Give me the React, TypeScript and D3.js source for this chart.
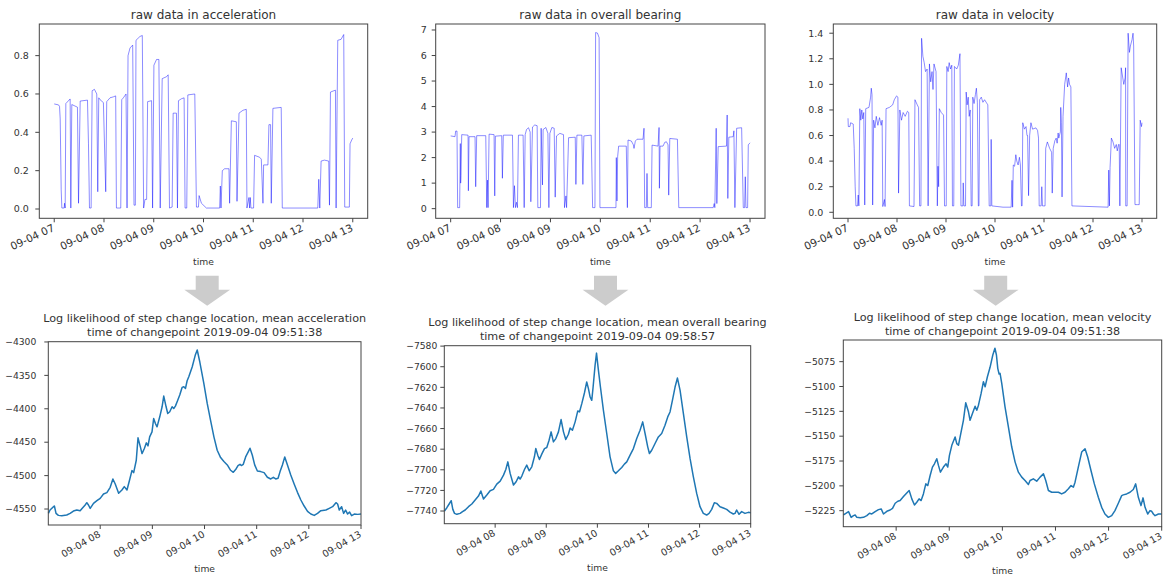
import React from "react";
import * as d3 from "d3";

// Time axis: all series are stored as minutes after 2019-09-04 07:00.
const BASE = new Date(2019, 8, 4, 7, 0, 0);
const at = (m: number) => new Date(BASE.getTime() + m * 60000);

type Pt = [number, number];

// ---- raw sensor series [minute, value] ----
const accelRaw: Pt[] = [
  [0, 0.548], [5.2, 0.543], [6.4, 0.535], [7.2, 0.47], [8.4, 0.1], [9.2, 0.005], [12, 0.005], [12.4, 0.03], [13.2, 0.005],
  [14, 0.55], [19.2, 0.574], [20, 0.005], [21.2, 0.545], [28, 0.531], [29.3, 0.03], [31.3, 0.563], [40.1, 0.568],
  [41.3, 0.34], [42.5, 0.005], [44.5, 0.005], [45.7, 0.617], [48.5, 0.624], [51.3, 0.6], [52.5, 0.09], [53.7, 0.58],
  [55.3, 0.57], [59.3, 0.555], [62.1, 0.09], [63.3, 0.56], [67.3, 0.58], [71.3, 0.585], [74.1, 0.59], [75, 0.005],
  [80.2, 0.005], [81.4, 0.57], [83.4, 0.58], [86.6, 0.6], [87.8, 0.005], [89, 0.8], [91.4, 0.84], [94.6, 0.855],
  [96.2, 0.02], [97.8, 0.02], [98.6, 0.88], [103.4, 0.9], [106.2, 0.905], [107.8, 0.005], [109.4, 0.05], [111.4, 0.05],
  [112.6, 0.56], [117.4, 0.565], [118.6, 0.005], [120.2, 0.75], [123.4, 0.78], [126.2, 0.78], [127.8, 0.005],
  [130.2, 0.68], [135.4, 0.69], [137.4, 0.7], [139, 0.005], [142.2, 0.01], [143.4, 0.5], [147.4, 0.5], [148.6, 0.005],
  [149.8, 0.565], [153.4, 0.575], [156.6, 0.58], [157.8, 0.005], [159.8, 0.005], [161.1, 0.595], [169.5, 0.6],
  [171.5, 0.01], [173.9, 0.01], [174.7, 0.07], [177.5, 0.03], [183.5, 0.005], [199.5, 0.005], [200.3, 0.12],
  [201.1, 0.005], [202.7, 0.2], [205.5, 0.21], [210.7, 0.21], [211.5, 0.03], [213.6, 0.46], [219.6, 0.455],
  [220.4, 0.04], [222.8, 0.5], [227.6, 0.515], [231.6, 0.52], [232.4, 0.005], [234.8, 0.06], [235.6, 0.005],
  [236.4, 0.06], [237.2, 0.005], [240.4, 0.005], [241.6, 0.28], [247.6, 0.27], [249.7, 0.26], [251.7, 0.03],
  [252.5, 0.23], [257.7, 0.23], [258.9, 0.44], [260.9, 0.44], [261.7, 0.03], [263.7, 0.525], [273.7, 0.53],
  [275, 0.005], [317.8, 0.005], [319, 0.155], [320.2, 0.005], [321.8, 0.25], [325.8, 0.255], [331, 0.25],
  [331.9, 0.02], [333.1, 0.61], [339.1, 0.62], [339.9, 0.005], [341.9, 0.88], [345.9, 0.885], [349.1, 0.91],
  [350.3, 0.01], [355.9, 0.01], [356.7, 0.34], [358.7, 0.36], [360, 0.37],
];

const bearingRaw: Pt[] = [
  [0, 2.85], [5.2, 2.82], [6, 3.04], [7.6, 3.04], [8.4, 0.04], [10.8, 0.04], [11.6, 2.55], [12, 1.0], [12.4, 1.3],
  [13.3, 2.9], [20.9, 2.88], [21.3, 0.7], [22.1, 2.82], [29.3, 2.82], [30.1, 0.86], [31.3, 2.86], [42.2, 2.86],
  [43.4, 0.04], [44.2, 1.12], [45, 0.04], [46.2, 2.92], [52.2, 2.9], [53, 0.5], [53.8, 2.84], [61.4, 2.86],
  [62.2, 1.19], [63.3, 2.88], [74.3, 2.88], [75.5, 0.04], [76.7, 0.9], [77.9, 0.04], [79.1, 0.25], [80.3, 0.04],
  [81.5, 2.88], [87.1, 2.88], [88.4, 0.04], [89.6, 2.9], [91.2, 3.1], [93.6, 3.17], [95.6, 3.0], [96.4, 0.27],
  [98.4, 3.2], [101.2, 3.28], [104, 3.25], [104.8, 0.04], [108, 0.04], [108.8, 3.15], [110.4, 0.93], [111.2, 3.1],
  [114.5, 3.18], [116.9, 2.95], [118.1, 0.04], [119.3, 2.95], [121.7, 3.18], [124.5, 3.15], [125.7, 0.45],
  [127.3, 2.85], [131.3, 2.95], [135.7, 2.9], [136.9, 0.04], [138.6, 0.5], [139.4, 0.04], [141.8, 2.78],
  [149.8, 2.8], [150.6, 0.95], [151.8, 2.88], [157.8, 2.88], [159, 0.95], [160.2, 2.85], [169, 2.88], [170.7, 0.04],
  [173.5, 0.04], [174.3, 6.9], [176.5, 6.88], [178.5, 6.7], [179.5, 0.04], [198.8, 0.04], [199.2, 2.0], [200, 0.3],
  [200.8, 2.04], [202, 2.45], [211.2, 2.45], [212.5, 0.04], [213.3, 2.69], [217.3, 2.65], [219.7, 2.5],
  [220.5, 2.36], [222.1, 2.65], [224.1, 2.72], [231.3, 2.72], [232.5, 3.15], [233.3, 0.04], [235.3, 0.04],
  [236.1, 1.38], [236.9, 0.04], [241.3, 0.04], [242.2, 2.49], [249.4, 2.45], [250.6, 3.18], [251, 0.8],
  [251.8, 2.45], [255.4, 2.45], [257.5, 2.6], [259.5, 2.62], [261.4, 2.5], [262.2, 0.53], [263.5, 2.75],
  [272.7, 2.72], [274.3, 0.04], [315.7, 0.04], [316.9, 0.2], [317.7, 0.04], [319.3, 3.15], [320.1, 0.2],
  [321.7, 2.43], [331.7, 2.45], [332.5, 3.67], [333.3, 0.4], [334.5, 2.8], [339.8, 2.82], [340.6, 3.05],
  [341.8, 0.04], [343.9, 3.15], [349.9, 3.17], [351.9, 0.04], [353.5, 0.04], [354.3, 1.25], [355.1, 0.04],
  [357.1, 0.04], [357.9, 2.5], [360, 2.58],
];

const velocityRaw: Pt[] = [
  [0, 0.735], [0.4, 0.67], [2.4, 0.67], [3.2, 0.7], [6.4, 0.69], [7.6, 0.5], [8.8, 0.2], [9.7, 0.05], [11.7, 0.05],
  [12.5, 0.135], [13.3, 0.05], [14.5, 0.81], [15.7, 0.72], [16.9, 0.8], [18.1, 0.73], [19.3, 0.78], [20.5, 0.057],
  [21.7, 0.81], [25.7, 0.82], [27.7, 0.9], [28.5, 0.97], [29.4, 0.92], [30.2, 0.057], [31.4, 0.72], [33, 0.66],
  [34.6, 0.75], [36.6, 0.68], [38.6, 0.74], [40.6, 0.68], [41.8, 0.72], [42.6, 0.045], [44.6, 0.1], [45.4, 0.045],
  [46.6, 0.81], [50.7, 0.82], [54.7, 0.84], [56.7, 0.88], [59.5, 0.91], [61.1, 0.9], [61.9, 0.15], [63.5, 0.8],
  [65.5, 0.72], [67.5, 0.78], [70, 0.75], [72.8, 0.79], [74.4, 0.78], [75.2, 0.05], [80.8, 0.045], [82, 0.88],
  [84.8, 0.84], [86.4, 0.82], [87.7, 0.05], [89.3, 0.05], [90.1, 1.36], [91.7, 1.22], [93.3, 1.17], [94.9, 1.1],
  [96.9, 1.12], [98.1, 0.05], [99.7, 1.16], [101.3, 1.02], [102.9, 1.1], [104.1, 0.96], [105.3, 1.16],
  [107.8, 1.1], [109.4, 0.05], [110.2, 0.36], [111, 0.2], [111.8, 0.81], [114.2, 0.78], [117, 0.76], [118.2, 0.05],
  [120.3, 0.05], [121, 1.14], [122.6, 1.1], [123.9, 1.17], [125.5, 1.12], [127.1, 1.15], [127.9, 0.05],
  [129.5, 0.05], [130.3, 1.14], [133.1, 1.12], [135.1, 1.15], [137.1, 1.24], [138.3, 0.05], [140.7, 0.05],
  [141.1, 0.23], [141.9, 0.05], [143.9, 0.05], [144.7, 0.94], [145.9, 0.84], [147.2, 0.9], [148.4, 0.75],
  [149.6, 0.8], [150.8, 0.05], [152, 0.05], [152.8, 0.9], [154.4, 0.85], [156, 0.92], [157.2, 0.97], [158.4, 0.86],
  [159.6, 0.05], [160.4, 0.05], [161.2, 0.88], [163.2, 0.9], [165.2, 0.86], [167.2, 0.88], [169.2, 0.86],
  [171.2, 0.84], [172.9, 0.05], [174.9, 0.05], [175.3, 0.57], [176.1, 0.05], [189.8, 0.04], [199.8, 0.04],
  [200.8, 0.25], [201.6, 0.04], [202.4, 0.37], [204, 0.36], [205.5, 0.45], [206.7, 0.4], [208.3, 0.37],
  [209.9, 0.43], [211.1, 0.37], [212.4, 0.05], [213.2, 0.05], [214, 0.7], [216, 0.65], [218, 0.67], [219.2, 0.6],
  [219.9, 0.6], [221.1, 0.13], [222.4, 0.6], [224, 0.7], [226, 0.65], [230.1, 0.66], [232.1, 0.64], [233.3, 0.58],
  [234.1, 0.05], [236.5, 0.05], [237.3, 0.2], [238.1, 0.05], [241.3, 0.05], [242.1, 0.5], [244.1, 0.55],
  [246.9, 0.5], [249.3, 0.47], [250.1, 0.15], [251.3, 0.5], [253.3, 0.56], [254.9, 0.58], [256.1, 0.54],
  [257.3, 0.62], [258.1, 0.58], [260.1, 0.63], [260.5, 0.82], [261.3, 0.7], [262.1, 0.12], [263.3, 0.75],
  [265.3, 1.0], [267.3, 1.09], [268.9, 0.98], [270.1, 1.05], [271.3, 1.0], [272.9, 0.98], [274.2, 0.05],
  [318.5, 0.04], [319.3, 0.33], [320.1, 0.05], [320.9, 0.35], [322.5, 0.58], [324.5, 0.55], [326.5, 0.5],
  [328.5, 0.53], [329.7, 0.48], [331.3, 0.53], [332.1, 0.53], [332.9, 0.05], [334.5, 1.13], [336.5, 1.05],
  [337.7, 1.0], [339.3, 1.05], [339.9, 1.13], [340.1, 0.05], [341.8, 0.05], [343, 1.4], [344.6, 1.25],
  [345.8, 1.3], [347.8, 1.35], [349, 1.4], [349.8, 1.3], [351.4, 0.06], [354.6, 0.06], [356.6, 0.06],
  [357.8, 0.72], [359.4, 0.67], [360, 0.7],
];

// ---- log likelihood of the step-change location [minute, log L] ----
const llAccel: Pt[] = [
  [0.4, -4556.5], [2.3, -4551.5], [6.2, -4546.5], [7.3, -4545.5], [9.2, -4556.5], [11.9, -4559.5], [15.8, -4560],
  [21.5, -4559], [25.4, -4556.5], [29.2, -4553], [33.1, -4551.5], [36.9, -4552.5], [42.7, -4544], [44.6, -4540.5],
  [46.5, -4544], [48.5, -4549], [52.3, -4541.5], [56.2, -4537.5], [60, -4534], [63.8, -4527.5], [67.7, -4525.5],
  [71.5, -4517.5], [74.6, -4505], [77.3, -4512.5], [81.2, -4526.5], [85, -4521.5], [87.7, -4516.5],
  [90.8, -4521.5], [93.8, -4506.5], [96.5, -4492.5], [98.5, -4495.5], [101.5, -4477], [103.5, -4443.5],
  [106.2, -4457], [108.1, -4467], [110.8, -4459.5], [113.1, -4451], [115, -4455.5], [116.9, -4442],
  [119.6, -4434.5], [121.5, -4414.5], [123.5, -4422], [125.4, -4427], [128.5, -4412], [131.2, -4397],
  [133.1, -4381], [135.8, -4397], [137.7, -4407], [140, -4404.5], [142.7, -4397], [144.6, -4399.5],
  [146.5, -4396], [148.5, -4389.5], [151.5, -4379.5], [154.2, -4368], [156.2, -4367], [158.1, -4369.5],
  [160, -4358], [161.9, -4352], [165.8, -4337.5], [169.3, -4320], [171.6, -4312], [174.6, -4330], [179.2, -4362],
  [183.1, -4392], [186.9, -4417], [190.8, -4442], [194.6, -4462], [198.5, -4473], [202.3, -4479], [206.2, -4484],
  [210, -4492], [213.1, -4495], [215.8, -4491], [218.5, -4485], [220.8, -4483], [222.3, -4485], [224.6, -4483],
  [227.3, -4472], [230.4, -4464], [232.3, -4459], [235, -4469.5], [237.7, -4484], [240.8, -4493], [244.6, -4494],
  [248.5, -4495.5], [252.3, -4502.5], [256.2, -4505], [259.2, -4502.5], [261.9, -4505], [264.6, -4504],
  [266.9, -4494], [269.6, -4484], [272.3, -4472], [275.4, -4484], [279.2, -4499], [283.1, -4512.5],
  [286.9, -4525], [290.8, -4536.5], [294.6, -4545.5], [298.5, -4553.5], [302.3, -4557.5], [306.2, -4559.5],
  [310, -4556.5], [313.8, -4552.5], [319.6, -4551.5], [323.5, -4549], [327.3, -4546.5], [331.2, -4540.5],
  [333.1, -4542.5], [335, -4551.5], [337.7, -4546.5], [340, -4556.5], [342.3, -4551.5], [344.6, -4557.5],
  [346.9, -4554.5], [349.2, -4560], [352.3, -4557.5], [356.2, -4558], [360, -4557.5],
];

const llBearing: Pt[] = [
  [0.5, -7740], [3.3, -7736.8], [6, -7733.2], [8.4, -7730], [10.3, -7738.4], [12.3, -7742.3], [15, -7743.2],
  [18.9, -7742.3], [21.7, -7740.6], [24.8, -7739], [28.7, -7735.8], [32.6, -7733.2], [36.5, -7729.4],
  [40.4, -7725.5], [43.2, -7720.6], [46.3, -7728.4], [50.2, -7724.5], [54.1, -7720.3], [58, -7719],
  [61.9, -7713.9], [65.9, -7711], [69.8, -7705.2], [72.5, -7699.7], [74.9, -7692.3], [77.6, -7703.5],
  [81.5, -7714.8], [84.6, -7711.6], [87.4, -7706.8], [89.3, -7709], [91.3, -7706.1], [94.4, -7699.7],
  [97.1, -7695.5], [99.9, -7701], [103, -7697.1], [106.1, -7687.4], [107.7, -7679.4], [110, -7685.8],
  [112, -7690], [114.7, -7684.8], [117.9, -7679.4], [120.6, -7678.4], [123.3, -7671.3], [125.7, -7663.2],
  [128.4, -7672.9], [131.2, -7669.7], [134.3, -7663.2], [137.4, -7651.3], [140.2, -7663.2], [142.9, -7670.6],
  [146, -7665.5], [148, -7659.4], [150.7, -7661.6], [153.9, -7653.5], [157, -7642.9], [159, -7643.9],
  [161.7, -7635.8], [164.8, -7625.5], [167.5, -7614.8], [169.5, -7621.3], [171.5, -7629.4], [173.4, -7632.6],
  [175, -7619.7], [177.3, -7598.7], [179, -7586.8], [181, -7601.9], [183.6, -7619.7], [187.1, -7642.3],
  [191, -7664.8], [194.9, -7687.4], [198.8, -7701], [201.5, -7703.5], [204.7, -7701], [208.6, -7697.7],
  [211.7, -7694.5], [214.5, -7692.3], [218.4, -7685.8], [222.3, -7679.4], [226.2, -7669.7], [230.1, -7661.6],
  [233.2, -7653.5], [236, -7664.8], [239.1, -7677.7], [241.1, -7684.2], [243.8, -7681], [247.7, -7674.5],
  [251.6, -7668.1], [255.5, -7664.8], [259.4, -7656.8], [262.6, -7648.7], [265.3, -7643.9], [268.1, -7632.6],
  [271.2, -7619.7], [274, -7611], [277.1, -7622.9], [281, -7645.5], [284.9, -7668.1], [288.8, -7689],
  [292.7, -7706.8], [296.6, -7722.9], [300.5, -7735.8], [304.4, -7742.3], [308.3, -7743.9], [311.1, -7742.3],
  [314.2, -7738.4], [317.3, -7731.9], [320.1, -7732.6], [324, -7735.8], [327.9, -7737.1], [331.8, -7738.4],
  [335.7, -7741], [339.6, -7742.9], [341.6, -7742.3], [343.5, -7739], [346.3, -7743.2], [349.4, -7740.6],
  [353.3, -7742.3], [357.2, -7741.3], [360, -7741.6],
];

const llVelocity: Pt[] = [
  [0.5, -5229.3], [3.2, -5227.6], [6.2, -5225.9], [9.2, -5231.7], [11.8, -5230], [13.7, -5229.3], [15.6, -5231.7],
  [19.3, -5232], [23.1, -5231.7], [26.9, -5230], [29.9, -5227.6], [32.5, -5228.3], [36.3, -5225.9],
  [40, -5223.9], [43.1, -5223.2], [45.7, -5228.3], [49.5, -5225.6], [53.2, -5224.3], [55.9, -5222.6],
  [58.9, -5217.5], [61.9, -5215.5], [64.5, -5214.8], [68.3, -5210.8], [72, -5207.1], [74.7, -5204.7],
  [77.7, -5213.1], [80.7, -5219.2], [83.3, -5216.5], [85.9, -5213.1], [88.2, -5214.8], [90.8, -5208.1],
  [93.5, -5198], [95.7, -5199.7], [98.4, -5189.6], [101, -5181.1], [103.3, -5177.8], [105.9, -5172.7],
  [107.8, -5179.4], [110, -5186.2], [113.4, -5181.1], [116.4, -5177.8], [118.3, -5181.1], [120.2, -5169.3],
  [122.9, -5159.2], [126.6, -5150.8], [128.5, -5157.5], [130.4, -5159.2], [133, -5147.4], [136, -5134],
  [138.6, -5116.4], [141.7, -5125.5], [143.5, -5134], [146.2, -5127.2], [149.2, -5119.8], [151.1, -5123.9],
  [153, -5118.8], [156, -5107], [158.6, -5095.2], [160.5, -5100.3], [163.1, -5090.2], [166.1, -5080.7],
  [169.2, -5068.3], [171.6, -5061.5], [173.3, -5068.3], [174.8, -5081.7], [176.3, -5087.5], [177.4, -5086.8],
  [179.3, -5096.9], [183, -5120.5], [186.8, -5140.7], [190.6, -5160.9], [194.4, -5176.1], [198.1, -5186.2],
  [201.9, -5191.2], [205.6, -5194.6], [209.4, -5198.7], [211.3, -5194.6], [215, -5192.9], [218.8, -5195.3],
  [222.6, -5191.2], [226.4, -5187.9], [229, -5194.6], [232, -5204.7], [235.8, -5206.4], [239.5, -5206.4],
  [243.3, -5206.4], [247, -5208.1], [250.8, -5206.4], [254.6, -5203], [257.6, -5199.7], [260.2, -5201.3],
  [262.1, -5196.3], [265.8, -5181.1], [269.6, -5166], [273.4, -5162.6], [276.4, -5171], [280.1, -5184.5],
  [283.9, -5198], [288.4, -5211.5], [292.2, -5221.6], [295.9, -5228.3], [299.7, -5231.7], [303.5, -5230],
  [307.2, -5224.9], [311, -5217.5], [314.8, -5209.8], [316.6, -5209.1], [320.4, -5208.1], [324.2, -5206.4],
  [327.9, -5203.7], [330.6, -5198], [333.6, -5211.5], [336.6, -5219.9], [338.9, -5212.1], [341.2, -5221.6],
  [344.2, -5228.3], [346.8, -5224.9], [348.7, -5225.6], [350.6, -5228.3], [352.5, -5230], [356.3, -5228.3],
  [360, -5228.3],
];

// ---- ticks ----
const hourTicksTop = [0, 60, 120, 180, 240, 300, 360];
const hourTicksBottom = [60, 120, 180, 240, 300, 360];
const accelTicks = [0, 0.2, 0.4, 0.6, 0.8];
const bearingTicks = [0, 1, 2, 3, 4, 5, 6, 7];
const velocityTicks = [0, 0.2, 0.4, 0.6, 0.8, 1.0, 1.2, 1.4];
const llAccelTicks = [-4300, -4350, -4400, -4450, -4500, -4550];
const llBearingTicks = [-7580, -7600, -7620, -7640, -7660, -7680, -7700, -7720, -7740];
const llVelocityTicks = [-5075, -5100, -5125, -5150, -5175, -5200, -5225];

// ---- titles ----
const rawTitles = ["raw data in acceleration", "raw data in overall bearing", "raw data in velocity"];
const llTitles = [
  ["Log likelihood of step change location, mean acceleration", "time of changepoint 2019-09-04 09:51:38"],
  ["Log likelihood of step change location, mean overall bearing", "time of changepoint 2019-09-04 09:58:57"],
  ["Log likelihood of step change location, mean velocity", "time of changepoint 2019-09-04 09:51:38"],
];

const FONT = "DejaVu Sans, sans-serif";
const TEXT = "#333";
const timeFmt = d3.timeFormat("%m-%d %H");

type Box = { l: number; r: number; t: number; b: number };

interface PanelProps {
  box: Box;
  xDomain: [number, number];
  yDomain: [number, number];
  data: Pt[];
  xTicks: number[];
  yTicks: number[];
  yFmt: (v: number) => string;
  titles: string[];
  titleFs: number;
  yFs: number;
  xFs: number;
  xRot: number;
  yGap: number;
  stroke: string;
  strokeOpacity: number;
  strokeWidth: number;
}

function Panel(p: PanelProps) {
  const { box } = p;
  const x = d3.scaleTime().domain(p.xDomain.map(at)).range([box.l, box.r]);
  const y = d3.scaleLinear().domain(p.yDomain).range([box.b, box.t]);
  const line = d3
    .line<Pt>()
    .x((d) => x(at(d[0])))
    .y((d) => y(d[1]));
  const cx = (box.l + box.r) / 2;
  const n = p.titles.length;
  const rad = (p.xRot * Math.PI) / 180;
  return (
    <g>
      <path
        d={line(p.data) || ""}
        fill="none"
        stroke={p.stroke}
        strokeOpacity={p.strokeOpacity}
        strokeWidth={p.strokeWidth}
        strokeLinejoin="round"
      />
      <rect
        x={box.l}
        y={box.t}
        width={box.r - box.l}
        height={box.b - box.t}
        fill="none"
        stroke="#444"
        strokeWidth={1}
      />
      {p.yTicks.map((v) => (
        <g key={"y" + v}>
          <line x1={box.l - 4} x2={box.l} y1={y(v)} y2={y(v)} stroke="#444" />
          <text
            x={box.l - p.yGap}
            y={y(v)}
            dy="0.35em"
            textAnchor="end"
            fontSize={p.yFs}
            fontFamily={FONT}
            fill={TEXT}
          >
            {p.yFmt(v)}
          </text>
        </g>
      ))}
      {p.xTicks.map((m) => {
        const tx = x(at(m));
        const asc = 0.74 * p.xFs;
        return (
          <g key={"x" + m}>
            <line x1={tx} x2={tx} y1={box.b} y2={box.b + 4} stroke="#444" />
            <text
              transform={`translate(${tx + 1},${box.b + 5 + asc * Math.cos(rad)}) rotate(${-p.xRot})`}
              textAnchor="end"
              fontSize={p.xFs}
              fontFamily={FONT}
              fill={TEXT}
            >
              {timeFmt(at(m))}
            </text>
          </g>
        );
      })}
      <text x={cx} y={box.b + 47} textAnchor="middle" fontSize={9.2} fontFamily={FONT} fill={TEXT}>
        time
      </text>
      {p.titles.map((t, i) => (
        <text
          key={t}
          x={cx}
          y={box.t - 5.5 - (n - 1 - i) * 14}
          textAnchor="middle"
          fontSize={p.titleFs}
          fontFamily={FONT}
          fill={TEXT}
        >
          {t}
        </text>
      ))}
    </g>
  );
}

// Layout of the six axes
const topBoxes: Box[] = [
  { l: 39.3, r: 367.7, t: 24, b: 218.3 },
  { l: 435.7, r: 765, t: 24, b: 218.3 },
  { l: 833.3, r: 1156.7, t: 24, b: 218.3 },
];
const bottomBoxes: Box[] = [
  { l: 48.3, r: 361, t: 341.7, b: 525 },
  { l: 444.3, r: 750.7, t: 345.7, b: 523.7 },
  { l: 843.3, r: 1161.7, t: 340, b: 526.7 },
];
const topGaps = [10.5, 9, 10];
const bottomGaps = [12, 7, 8];
const arrowCenters = [207.2, 605.5, 995.7];

function DownArrow({ cx }: { cx: number }) {
  const top = 275.7, neck = 289.7, tip = 305.7, bw = 11.5, hw = 22.9;
  const pts = [
    [cx - bw, top], [cx + bw, top], [cx + bw, neck], [cx + hw, neck],
    [cx, tip], [cx - hw, neck], [cx - bw, neck],
  ];
  return <polygon points={pts.map((q) => q.join(",")).join(" ")} fill="#cccccc" />;
}

export default function App() {
  const rawSeries = [accelRaw, bearingRaw, velocityRaw];
  const rawY: [number, number][] = [[-0.0485, 0.965], [-0.378, 7.235], [-0.047, 1.472]];
  const rawTicks = [accelTicks, bearingTicks, velocityTicks];
  const rawFmt = [d3.format(".1f"), d3.format("d"), d3.format(".1f")];

  const llSeries = [llAccel, llBearing, llVelocity];
  const llY: [number, number][] = [[-4573.9, -4299.6], [-7752.3, -7579.6], [-5241.1, -5053.2]];
  const llTicks = [llAccelTicks, llBearingTicks, llVelocityTicks];
  const llFmt = d3.format("d");

  return (
    <svg
      width={1165}
      height={576}
      style={{ position: "absolute", left: 0, top: 0, background: "#fff" }}
    >
      <rect width={1165} height={576} fill="#fff" />
      {rawSeries.map((s, i) => (
        <Panel
          key={"raw" + i}
          box={topBoxes[i]}
          xDomain={[-18, 378]}
          yDomain={rawY[i]}
          data={s}
          xTicks={hourTicksTop}
          yTicks={rawTicks[i]}
          yFmt={rawFmt[i]}
          titles={[rawTitles[i]]}
          titleFs={12}
          yFs={9.5}
          xFs={10.5}
          xRot={25}
          yGap={topGaps[i]}
          stroke="#0000ff"
          strokeOpacity={0.45}
          strokeWidth={1}
        />
      ))}
      {arrowCenters.map((c) => (
        <DownArrow key={c} cx={c} />
      ))}
      {llSeries.map((s, i) => (
        <Panel
          key={"ll" + i}
          box={bottomBoxes[i]}
          xDomain={[0.3, 360]}
          yDomain={llY[i]}
          data={s}
          xTicks={hourTicksBottom}
          yTicks={llTicks[i]}
          yFmt={llFmt}
          yFs={9.2}
          xFs={9.6}
          xRot={30}
          yGap={bottomGaps[i]}
          titles={llTitles[i]}
          titleFs={11.2}
          stroke="#1f77b4"
          strokeOpacity={1}
          strokeWidth={1.5}
        />
      ))}
    </svg>
  );
}
